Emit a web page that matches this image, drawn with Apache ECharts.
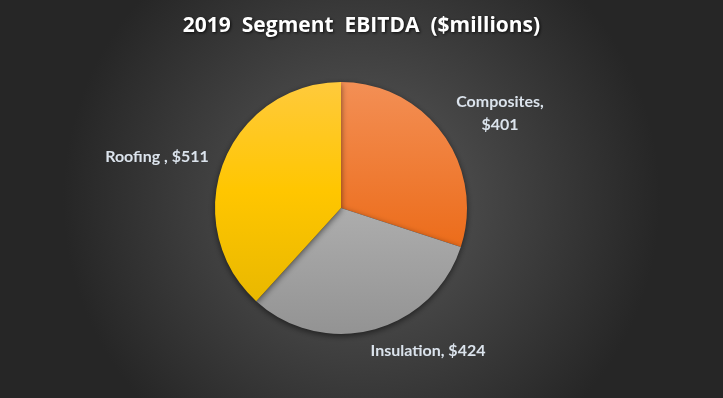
<!DOCTYPE html>
<html><head><meta charset="utf-8">
<script src="https://cdn.jsdelivr.net/npm/echarts@6/dist/echarts.min.js"></script>
<style>html,body{margin:0;padding:0;background:#333;}#c{width:723px;height:398px;}</style>
</head><body><div id="c"></div>
<script>
const categories = ['Composites', 'Insulation', 'Roofing '];
const values = [401, 424, 511];
const labelTexts = ['Composites,\n$401', 'Insulation, $424', 'Roofing , $511'];

const grads = [
  ['#f38f55', '#ec6c1a'],
  ['#adadad', '#939393'],
  ['#ffca3c', '#ffc600', '#e9b800']
];
function lg(cs){
  const stops = cs.map((c,i)=>({offset: i/(cs.length-1), color: c}));
  return {type:'linear', x:0, y:0, x2:0, y2:1, colorStops: stops};
}
const labelPos = [[500, 113], [428, 351], [157, 157]];

const chart = echarts.init(document.getElementById('c'));
chart.setOption({
  backgroundColor: {type:'radial', x:0.5, y:0.5, r:0.75, colorStops:[{offset:0,color:'#5b5b5b'},{offset:1,color:'#262626'}]},
  title: {
    text: '2019  Segment  EBITDA  ($millions)',
    left: 'center', top: 11,
    textStyle: {color:'#ffffff', fontFamily:'Open Sans', fontWeight:'bold', fontSize:21,
      textShadowColor:'rgba(0,0,0,0.8)', textShadowBlur:3, textShadowOffsetX:1, textShadowOffsetY:1}
  },
  series: [{
    type: 'pie',
    center: [341, 208],
    radius: [0, 126],
    startAngle: 90,
    clockwise: true,
    silent: true,
    data: categories.map((c,i)=>({name:c, value:values[i], itemStyle:{color: lg(grads[i])}})),
    itemStyle: {borderWidth: 0, shadowBlur: 6, shadowColor:'rgba(0,0,0,0.55)', shadowOffsetY: 2},
    label: {
      show: true, position: 'outside',
      formatter: p => labelTexts[p.dataIndex],
      color: '#dbe3ec', fontFamily: 'Lato', fontWeight: 'bold', fontSize: 16, lineHeight: 23, align: 'center'
    },
    labelLine: {show: false},
    labelLayout: p => ({x: labelPos[p.dataIndex][0], y: labelPos[p.dataIndex][1], align:'center', verticalAlign:'middle'})
  }]
});
</script></body></html>
